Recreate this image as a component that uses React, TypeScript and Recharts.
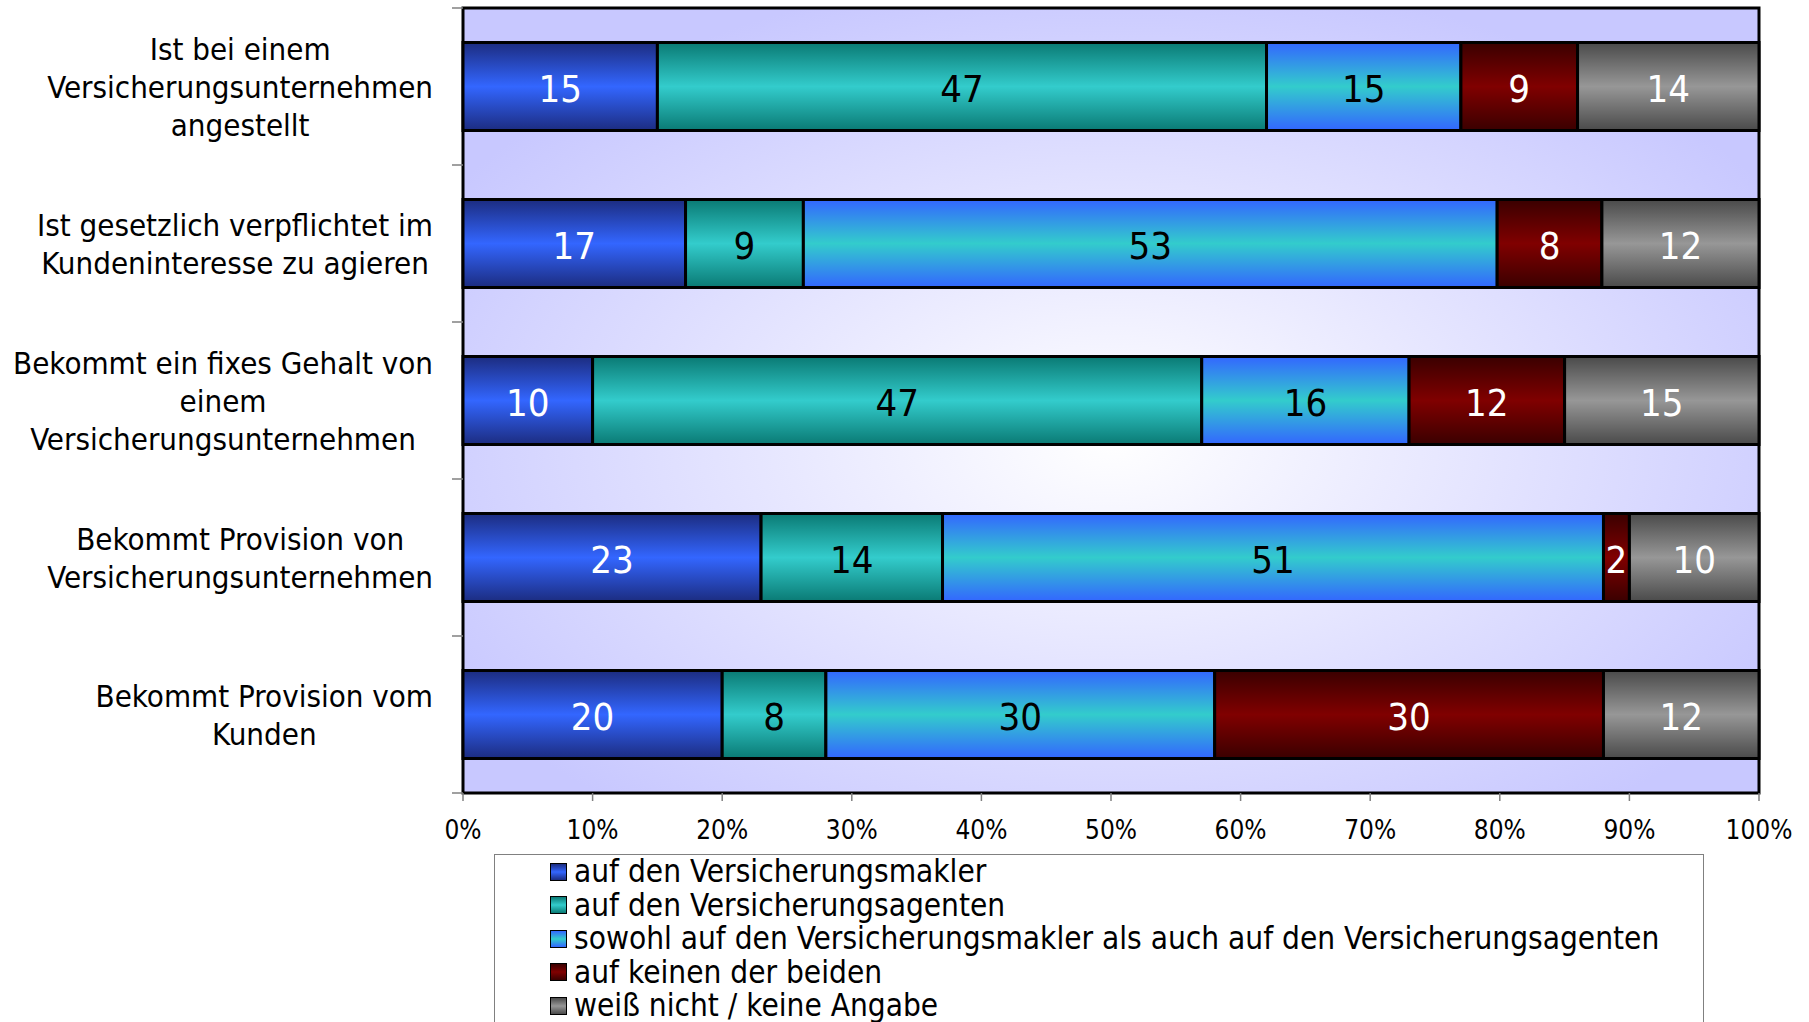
import React from "react";
import {
  BarChart,
  Bar,
  XAxis,
  YAxis,
  CartesianGrid,
  ReferenceArea,
  LabelList,
} from "recharts";

const categories = [
  "Ist bei einem\nVersicherungsunternehmen\nangestellt",
  "Ist gesetzlich verpflichtet im\nKundeninteresse zu agieren",
  "Bekommt ein fixes Gehalt von\neinem\nVersicherungsunternehmen",
  "Bekommt Provision von\nVersicherungsunternehmen",
  "Bekommt Provision vom\nKunden",
];

const makler = [15, 17, 10, 23, 20];
const agenten = [47, 9, 47, 14, 8];
const beide = [15, 53, 16, 51, 30];
const keiner = [9, 8, 12, 2, 30];
const weissNicht = [14, 12, 15, 10, 12];

const seriesNames = [
  "auf den Versicherungsmakler",
  "auf den Versicherungsagenten",
  "sowohl auf den Versicherungsmakler als auch auf den Versicherungsagenten",
  "auf keinen der beiden",
  "weiß nicht / keine Angabe",
];

const xTicks = [0, 0.1, 0.2, 0.3, 0.4, 0.5, 0.6, 0.7, 0.8, 0.9, 1];

const FONT = "'DejaVu Sans Condensed', 'DejaVu Sans', sans-serif";
const W = 1809;
const H = 1022;
const MARGIN = { top: 8, right: 50, left: 0, bottom: 169 };
const Y_AXIS_W = 463;
const X_AXIS_H = 60;
const PLOT_H = H - MARGIN.top - MARGIN.bottom - X_AXIS_H;
const BAND = PLOT_H / categories.length;
const LABEL_SIZE = 31;
const LINE_H = 38;
const TICK_MARGIN = 30;

const data = categories.map((name, i) => ({
  name,
  makler: makler[i],
  agenten: agenten[i],
  beide: beide[i],
  keiner: keiner[i],
  weissNicht: weissNicht[i],
}));

// vertical gradients, [edge, middle]
const series = [
  { key: "makler", grad: ["#1c2c80", "#3366ff"], text: "#fff" },
  { key: "agenten", grad: ["#0a7a74", "#33cccc"], text: "#000" },
  { key: "beide", grad: ["#3366ff", "#33cccc"], text: "#000" },
  { key: "keiner", grad: ["#3a0000", "#800000"], text: "#fff" },
  { key: "weissNicht", grad: ["#4a4a4a", "#979797"], text: "#fff" },
];

let ctx: CanvasRenderingContext2D | null = null;
function measure(text: string): number {
  if (!ctx) ctx = document.createElement("canvas").getContext("2d");
  if (!ctx) return text.length * LABEL_SIZE * 0.52;
  ctx.font = `${LABEL_SIZE}px ${FONT}`;
  return ctx.measureText(text).width;
}

function CategoryTick(props: any) {
  const { x, y, payload, index } = props;
  const lines = String(payload.value).split("\n");
  const maxW = Math.max(...lines.map(measure));
  const cx = x - maxW / 2;
  const startY = y - ((lines.length - 1) * LINE_H) / 2;
  const axisX = x + TICK_MARGIN;
  return (
    <g>
      <line x1={axisX - 11} x2={axisX} y1={y - BAND / 2} y2={y - BAND / 2} stroke="#808080" strokeWidth={1.5} />
      {index === categories.length - 1 && (
        <line x1={axisX - 11} x2={axisX} y1={y + BAND / 2} y2={y + BAND / 2} stroke="#808080" strokeWidth={1.5} />
      )}
      <text textAnchor="middle" fontSize={LABEL_SIZE} fontFamily={FONT} fill="#000">
        {lines.map((l, i) => (
          <tspan key={i} x={cx} y={startY + i * LINE_H} dy="0.36em">
            {l}
          </tspan>
        ))}
      </text>
    </g>
  );
}

function Legend() {
  return (
    <div
      style={{
        position: "absolute",
        left: 494,
        top: 854,
        width: 1210,
        height: 200,
        border: "1.5px solid #808080",
        boxSizing: "border-box",
        paddingLeft: 55,
        paddingTop: 0,
        fontFamily: FONT,
        fontSize: 31.3,
        lineHeight: "33.5px",
        background: "#fff",
      }}
    >
      {seriesNames.map((name, i) => (
        <div key={name} style={{ display: "flex", alignItems: "center", whiteSpace: "nowrap", height: 33.5 }}>
          <span
            style={{
              display: "inline-block",
              width: 15,
              height: 16,
              border: "1.5px solid #000",
              marginRight: 7,
              background: `linear-gradient(to bottom, ${series[i].grad[0]}, ${series[i].grad[1]}, ${series[i].grad[0]})`,
            }}
          />
          <span>{name}</span>
        </div>
      ))}
    </div>
  );
}

export default function App() {
  return (
    <div style={{ position: "absolute", left: 0, top: 0, width: W, height: H, overflow: "hidden", background: "#fff" }}>
      <BarChart
        width={W}
        height={H}
        data={data}
        layout="vertical"
        stackOffset="expand"
        barCategoryGap="22%"
        margin={MARGIN}
      >
        <defs>
          <radialGradient id="plotBg" cx="0.5" cy="0.55" r="0.6">
            <stop offset="0%" stopColor="#ffffff" />
            <stop offset="100%" stopColor="#c8c8ff" />
          </radialGradient>
          {series.map((s) => (
            <linearGradient key={s.key} id={`g-${s.key}`} x1="0" y1="0" x2="0" y2="1">
              <stop offset="0%" stopColor={s.grad[0]} />
              <stop offset="50%" stopColor={s.grad[1]} />
              <stop offset="100%" stopColor={s.grad[0]} />
            </linearGradient>
          ))}
        </defs>
        <CartesianGrid horizontal={false} vertical={false} fill="url(#plotBg)" fillOpacity={1} />
        <XAxis
          type="number"
          domain={[0, 1]}
          ticks={xTicks}
          tickFormatter={(v: number) => `${Math.round(v * 100)}%`}
          height={X_AXIS_H}
          axisLine={false}
          tickSize={8}
          tickMargin={20}
          tickLine={{ stroke: "#808080", strokeWidth: 1.5 }}
          tick={{ fontSize: 26, fontFamily: FONT, fill: "#000" }}
          interval={0}
        />
        <YAxis
          type="category"
          dataKey="name"
          width={Y_AXIS_W}
          axisLine={false}
          tickLine={false}
          tickSize={0}
          tickMargin={TICK_MARGIN}
          tick={<CategoryTick />}
          interval={0}
        />
        {series.map((s) => (
          <Bar
            key={s.key}
            dataKey={s.key}
            stackId="a"
            fill={`url(#g-${s.key})`}
            stroke="#000"
            strokeWidth={3}
            isAnimationActive={false}
          >
            <LabelList
              dataKey={s.key}
              position="center"
              fill={s.text}
              stroke="none"
              fontSize={38}
              fontFamily={FONT}
              dy={2}
            />
          </Bar>
        ))}
        <ReferenceArea x1={0} x2={1} fill="none" stroke="#000" strokeWidth={3} ifOverflow="visible" />
      </BarChart>
      <Legend />
    </div>
  );
}
